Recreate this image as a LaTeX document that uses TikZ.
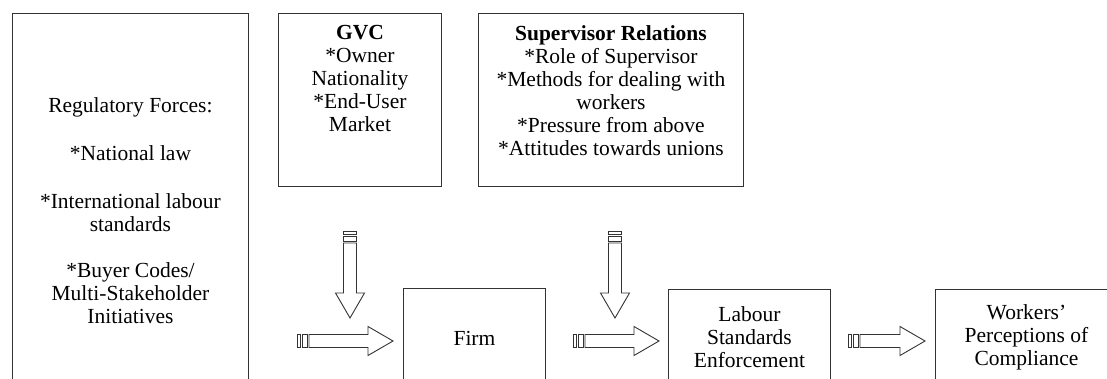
\documentclass[tikz,border=0pt]{standalone}
\usepackage{fontspec}
\setmainfont{Liberation Serif}
\usetikzlibrary{positioning}

\tikzset{
  box/.style={draw=black!80, line width=0.9pt, inner sep=0pt, align=center},
  boxtext/.style={inner sep=0pt, align=center},
  arrowline/.style={draw=black!80, line width=0.9pt}
}

% striped block arrow: tail, angle, length
\newcommand{\stripedarrow}[3]{%
  \begin{scope}[shift={(#1)}, rotate=#2, arrowline]
    \draw (0,-6.5) rectangle (3,6.5);
    \draw (5,-6.5) rectangle (10,6.5);
    \draw (12,-6.5) -- ({#3-25},-6.5) -- ({#3-25},-14.5) -- (#3,0)
      -- ({#3-25},14.5) -- ({#3-25},6.5) -- (12,6.5) -- cycle;
  \end{scope}}

\begin{document}
\begin{tikzpicture}[x=1pt, y=-1pt, font=\fontsize{21.5}{23}\selectfont]
  \clip (0,0) rectangle (1107,379);

  % upper boxes
  \node[box, minimum width=236pt, minimum height=394pt, anchor=north west] (reg) at (12,13)
    {Regulatory Forces:\\[25pt] *National law\\[25pt] *International labour\\ standards\\[23pt]
     *Buyer Codes/\\ Multi-Stakeholder\\ Initiatives};
  \node[box, minimum width=163pt, minimum height=173pt, anchor=north west] (gvc) at (278,13) {};
  \node[boxtext, below=12pt of gvc.north] (gvctext)
    {\textbf{GVC}\\ *Owner\\ Nationality\\ *End-User\\ Market};
  \node[box, minimum width=265pt, minimum height=173pt, anchor=north west] (sup) at (478,13) {};
  \node[boxtext, below=12pt of sup.north] (suptext)
    {\textbf{Supervisor Relations}\\ *Role of Supervisor\\ *Methods for dealing with\\ workers\\
     *Pressure from above\\ *Attitudes towards unions};

  % lower boxes
  \node[box, minimum width=142pt, minimum height=100pt, anchor=north west] (firm) at (403,288) {Firm};
  \node[box, minimum width=162pt, minimum height=96pt, anchor=north west] (lse) at (668,289)
    {Labour\\ Standards\\ Enforcement};
  \node[box, minimum width=182pt, minimum height=96pt, anchor=north west] (wpc) at (935,289)
    {Workers'\\ Perceptions of\\ Compliance};

  % arrows
  \coordinate (gvcin) at (350,231);
  \coordinate (supin) at (615,231);
  \coordinate (regout) at (297,341);
  \coordinate (firmout) at (573,341);
  \coordinate (lseout) at (848,341);
  \stripedarrow{gvcin}{-90}{87}
  \stripedarrow{supin}{-90}{87}
  \stripedarrow{regout}{0}{96}
  \stripedarrow{firmout}{0}{86}
  \stripedarrow{lseout}{0}{77}
\end{tikzpicture}
\end{document}
